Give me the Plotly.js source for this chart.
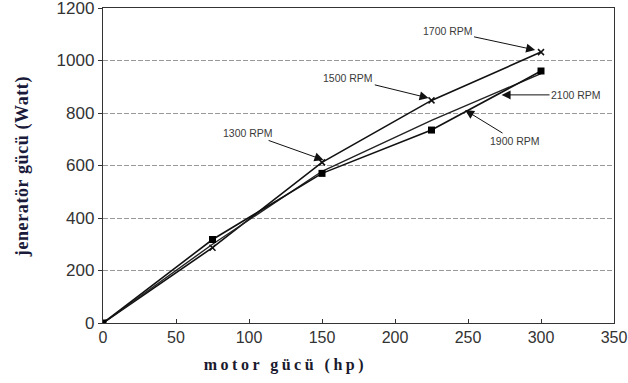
<!DOCTYPE html>
<html>
<head>
<meta charset="utf-8">
<script src="https://cdn.plot.ly/plotly-3.0.1.min.js"></script>
<style>
html,body{margin:0;padding:0;background:#fff;}
#chart{width:628px;height:383px;}
g.annotation[data-index="5"] text{letter-spacing:3.5px;}
g.annotation[data-index="6"] text{letter-spacing:0.6px;}
</style>
</head>
<body>
<div id="chart"></div>
<script>
// motor power (hp)
const motorPower = [0, 75, 150, 225, 300];
// generator power (W) for each speed line
const rpm1700 = [0, 287, 612, 848, 1032];
const rpm1900 = [0, 300, 578, 772, 950];
const rpm2100 = [0, 318, 570, 735, 960];

// label annotations: text, arrow head point (x,y), text point (x,y)
const labelTexts = ['1700 RPM', '1500 RPM', '1300 RPM', '2100 RPM', '1900 RPM'];
const labelHeadX = [296, 223, 151, 273, 248];
const labelHeadY = [1040, 857, 621, 869, 811];
const labelTextX = [236, 168, 99, 324, 282];
const labelTextY = [1112, 932, 724, 869, 695];

const xTicks = [0, 50, 100, 150, 200, 250, 300, 350];
const yTicks = [0, 200, 400, 600, 800, 1000, 1200];

const xTitle = 'motor gücü (hp)';
const yTitle = 'jeneratör gücü (Watt)';

const traces = [
  {x: motorPower, y: rpm1700, mode: 'lines+markers', name: '1700 RPM',
   line: {color: '#111', width: 1.6},
   marker: {symbol: 'x-thin', size: 6, color: '#111', line: {color: '#111', width: 1.5}}},
  {x: motorPower, y: rpm1900, mode: 'lines', name: '1900 RPM',
   line: {color: '#222', width: 1.4}},
  {x: motorPower, y: rpm2100, mode: 'lines+markers', name: '2100 RPM',
   line: {color: '#111', width: 1.6},
   marker: {symbol: 'square', size: 7, color: '#000'}}
];

const annotations = labelTexts.map((t, i) => ({
  x: labelHeadX[i], y: labelHeadY[i], xref: 'x', yref: 'y',
  ax: labelTextX[i], ay: labelTextY[i], axref: 'x', ayref: 'y',
  text: t, showarrow: true, arrowhead: 2, arrowsize: 1.8, arrowwidth: 1,
  arrowcolor: '#111', font: {family: 'Liberation Sans, Arial', size: 10.5, color: '#3a3a3a'}
}));
annotations.push({
  text: xTitle, xref: 'paper', yref: 'paper', x: 0.358, y: -0.133,
  xanchor: 'center', yanchor: 'middle', showarrow: false,
  font: {family: 'Liberation Serif, Times New Roman', size: 16, color: '#1a1a2e', weight: 'bold'}
});
annotations.push({
  text: yTitle, xref: 'paper', yref: 'paper', x: -0.159, y: 0.498,
  xanchor: 'center', yanchor: 'middle', showarrow: false, textangle: -90,
  font: {family: 'Liberation Serif, Times New Roman', size: 18, color: '#1a1a3a', weight: 'bold'}
});

const layout = {
  width: 628, height: 383,
  margin: {l: 103, r: 14, t: 8, b: 60},
  paper_bgcolor: '#fff', plot_bgcolor: '#fff',
  showlegend: false,
  annotations: annotations,
  xaxis: {
    range: [0, 350], tickvals: xTicks, ticktext: xTicks.map(String),
    showgrid: false, zeroline: false, ticklabeloverflow: 'allow',
    showline: true, linecolor: '#333', linewidth: 1.2, mirror: true,
    ticks: 'inside', ticklen: 4, tickcolor: '#333',
    tickfont: {family: 'Liberation Sans, Arial', size: 16, color: '#333'}
  },
  yaxis: {
    range: [0, 1200], tickvals: yTicks, ticktext: yTicks.map(String),
    showgrid: true, gridcolor: '#999', gridwidth: 1, griddash: '5px,2px',
    zeroline: false, ticklabeloverflow: 'allow',
    showline: true, linecolor: '#333', linewidth: 1.2, mirror: true,
    ticks: 'outside', ticklen: 4, tickcolor: '#333',
    tickfont: {family: 'Liberation Sans, Arial', size: 17, color: '#333'}
  }
};

Plotly.newPlot('chart', traces, layout, {displayModeBar: false, staticPlot: true});
</script>
</body>
</html>
